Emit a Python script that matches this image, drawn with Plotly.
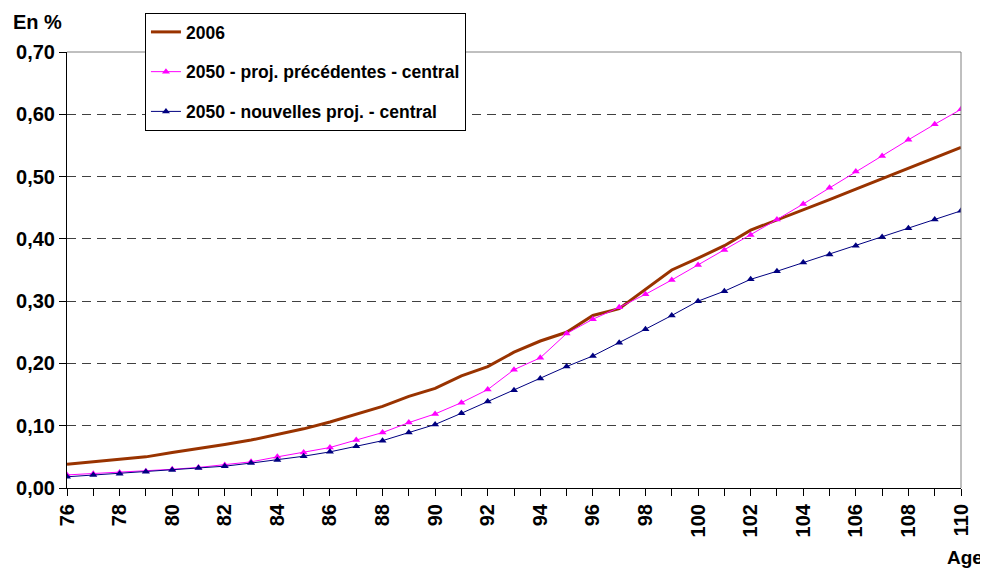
import plotly.graph_objects as go

ages = list(range(76, 111))

serie_2006 = [0.038, 0.042, 0.045, 0.050, 0.057, 0.063, 0.070, 0.077, 0.086, 0.095,
              0.106, 0.119, 0.131, 0.147, 0.160, 0.180, 0.195, 0.218, 0.236, 0.250,
              0.277, 0.288, 0.319, 0.350, 0.369, 0.389, 0.414, 0.430, 0.446, 0.463,
              0.480, 0.497, 0.513, 0.530, 0.547]

proj_prec = [0.021, 0.023, 0.025, 0.027, 0.030, 0.033, 0.037, 0.042, 0.050, 0.057,
             0.065, 0.077, 0.089, 0.105, 0.119, 0.137, 0.158, 0.190, 0.209, 0.248,
             0.271, 0.290, 0.311, 0.334, 0.358, 0.382, 0.406, 0.431, 0.456, 0.482,
             0.508, 0.533, 0.559, 0.584, 0.608]

proj_nouv = [0.018, 0.021, 0.023, 0.026, 0.029, 0.032, 0.035, 0.040, 0.045, 0.051,
             0.058, 0.067, 0.076, 0.089, 0.102, 0.120, 0.139, 0.157, 0.176, 0.195,
             0.212, 0.233, 0.255, 0.277, 0.300, 0.316, 0.335, 0.348, 0.362, 0.375,
             0.389, 0.403, 0.417, 0.431, 0.445]

font_fam = "Liberation Sans, Arial, sans-serif"

fig = go.Figure()
fig.add_trace(go.Scatter(x=ages, y=serie_2006, name="2006", mode="lines",
                         line=dict(color="#993300", width=3), legendgroup="a"))
fig.add_trace(go.Scatter(x=ages, y=proj_prec, name="2050 - proj. précédentes - central",
                         mode="lines+markers", line=dict(color="#FF00FF", width=1),
                         marker=dict(symbol="triangle-up", size=7, color="#FF00FF"),
                         legendgroup="b"))
fig.add_trace(go.Scatter(x=ages, y=proj_nouv, name="2050 - nouvelles proj. - central",
                         mode="lines+markers", line=dict(color="#000080", width=1),
                         marker=dict(symbol="triangle-up", size=7, color="#000080"),
                         legendgroup="c"))

# la page ajoute 8px de marge au body : on compense
fig.update_layout(
    width=980, height=563,
    margin=dict(l=59, r=27, t=44, b=83, autoexpand=False),
    plot_bgcolor="white", paper_bgcolor="white",
    separators=", ",
    font=dict(family=font_fam, color="black"),
    legend=dict(x=0.0872, y=1.0894, xanchor="left", yanchor="top",
                bordercolor="black", borderwidth=1, bgcolor="white",
                font=dict(size=17.5, family=font_fam, weight="bold"),
                tracegroupgap=14, itemwidth=30, entrywidth=300),
)

fig.update_xaxes(range=[76, 110], tick0=76, dtick=2, tickangle=-90,
                 ticks="outside", ticklen=7, tickcolor="black",
                 showline=True, linecolor="black", linewidth=1,
                 showgrid=False, zeroline=False,
                 tickfont=dict(size=20, weight="bold"),
                 minor=dict(dtick=1, ticks="outside", ticklen=7, tickcolor="black", showgrid=False))
fig.update_yaxes(range=[0, 0.7], dtick=0.1, tickformat=".2f",
                 ticks="outside", ticklen=7, tickcolor="black",
                 showline=True, linecolor="black", linewidth=1,
                 showgrid=True, gridcolor="#404040", griddash="9px,6px", gridwidth=1,
                 zeroline=False,
                 tickfont=dict(size=20, weight="bold"))

# cadre haut et droite
fig.add_shape(type="line", xref="paper", yref="paper", x0=0, x1=1, y0=1, y1=1,
              line=dict(color="#808080", width=1))
fig.add_shape(type="line", xref="paper", yref="paper", x0=1, x1=1, y0=0, y1=1,
              line=dict(color="#808080", width=1))

fig.add_annotation(text="En %", xref="paper", yref="paper", x=-0.063, y=1.069,
                   xanchor="left", yanchor="middle", showarrow=False,
                   font=dict(size=20, weight="bold"))
fig.add_annotation(text="Age", xref="paper", yref="paper", x=1.005, y=-0.16,
                   xanchor="center", yanchor="middle", showarrow=False,
                   font=dict(size=19, weight="bold"))

fig.write_html("out.html")
